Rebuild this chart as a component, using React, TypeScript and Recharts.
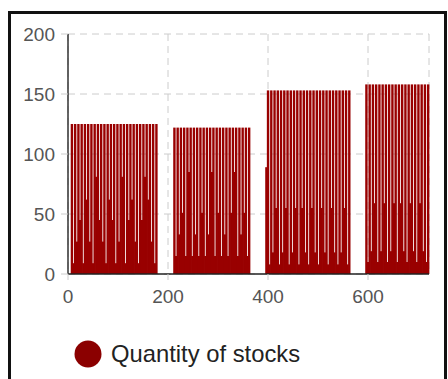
import React from 'react'
import { BarChart, Bar, XAxis, YAxis, CartesianGrid, Legend } from 'recharts'

// stock quantity readings, one array per block of time (peak / low readings interleaved)
const block1 = [125, 9, 125, 27, 125, 45, 125, 9, 125, 62, 125, 27, 125, 9, 125, 81, 125, 45, 125, 27, 125, 9, 125, 62, 125, 45, 125, 9, 125, 27, 125, 81, 125, 9, 125, 45, 125, 62, 125, 27, 125, 9, 125, 45, 125, 81, 125, 62, 125, 27, 125, 9, 125]
const block2 = [122, 15, 122, 33, 122, 51, 122, 15, 122, 85, 122, 15, 122, 33, 122, 15, 122, 51, 122, 15, 122, 33, 122, 85, 122, 15, 122, 51, 122, 15, 122, 33, 122, 15, 122, 51, 122, 85, 122, 15, 122, 33, 122, 51, 122, 15, 122]
const block3 = [89, 153, 8, 153, 18, 153, 55, 153, 8, 153, 18, 153, 55, 153, 8, 153, 18, 153, 55, 153, 8, 153, 55, 153, 18, 153, 8, 153, 55, 153, 18, 153, 8, 153, 55, 153, 18, 153, 8, 153, 55, 153, 18, 153, 8, 153, 18, 153, 55, 153, 8, 153]
const block4 = [158, 10, 158, 19, 158, 59, 158, 10, 158, 19, 158, 59, 158, 10, 158, 19, 158, 59, 158, 10, 158, 59, 158, 19, 158, 10, 158, 59, 158, 19, 158, 10, 158, 59, 158, 19, 158, 10, 158]

const blockStarts = [8, 213, 397, 597]
const step = 3.25

const xTicks = [0, 200, 400, 600]
const yTicks = [0, 50, 100, 150, 200]

const data = [block1, block2, block3, block4].flatMap((vals, b) =>
  vals.map((v, i) => ({ t: blockStarts[b] + i * step, qty: v }))
)

const RED = '#8B0000'
const BAR_RED = '#990000'
const FONT = '"Liberation Sans", Arial, sans-serif'

// bars are thinner than the axis band, so draw them with a fixed width round their centre
const ThinBar = (p: any) => {
  const w = 2.4
  return <rect x={p.x + p.width / 2 - w / 2} y={p.y} width={w} height={p.height} fill={BAR_RED} />
}

function LegendContent() {
  return (
    <div style={{ display: 'flex', alignItems: 'center', fontFamily: FONT }}>
      <svg width={28} height={28}>
        <circle cx={14} cy={14} r={13.5} fill={RED} />
      </svg>
      <span style={{ marginLeft: 9, fontSize: 23.8, color: '#222', whiteSpace: 'nowrap' }}>Quantity of stocks</span>
    </div>
  )
}

export default function App() {
  return (
    <div style={{ position: 'absolute', left: 0, top: 0, width: 448, height: 379, overflow: 'hidden', background: '#fff' }}>
      <div style={{
        position: 'absolute', left: 8, top: 11, width: 439, height: 420,
        boxSizing: 'border-box', border: '3px solid #111'
      }} />
      <div style={{ position: 'absolute', left: 0, top: 0 }}>
        <BarChart width={448} height={379} data={data} margin={{ top: 34, right: 19, left: 0, bottom: 75 }}>
          <CartesianGrid stroke="#ccc" strokeDasharray="7 5" />
          <XAxis
            type="number"
            dataKey="t"
            domain={[0, 722]}
            ticks={xTicks}
            interval={0}
            height={30}
            tickSize={6}
            tickMargin={10}
            tick={{ fill: '#555', fontSize: 19, fontFamily: FONT }}
            tickLine={{ stroke: '#ccc' }}
            axisLine={{ stroke: '#222', strokeWidth: 1.5 }}
          />
          <YAxis
            domain={[0, 200]}
            ticks={yTicks}
            interval={0}
            width={68}
            tickSize={7}
            tickMargin={6}
            tick={{ fill: '#555', fontSize: 19, fontFamily: FONT }}
            tickLine={{ stroke: '#ccc' }}
            axisLine={{ stroke: '#333', strokeWidth: 1.5 }}
          />
          <Legend
            layout="horizontal"
            verticalAlign="middle"
            align="center"
            wrapperStyle={{ left: 74, top: 340, width: 300 }}
            content={() => <LegendContent />}
          />
          <Bar dataKey="qty" name="Quantity of stocks" fill={BAR_RED} barSize={2.3} shape={ThinBar} isAnimationActive={false} />
        </BarChart>
      </div>
    </div>
  )
}
